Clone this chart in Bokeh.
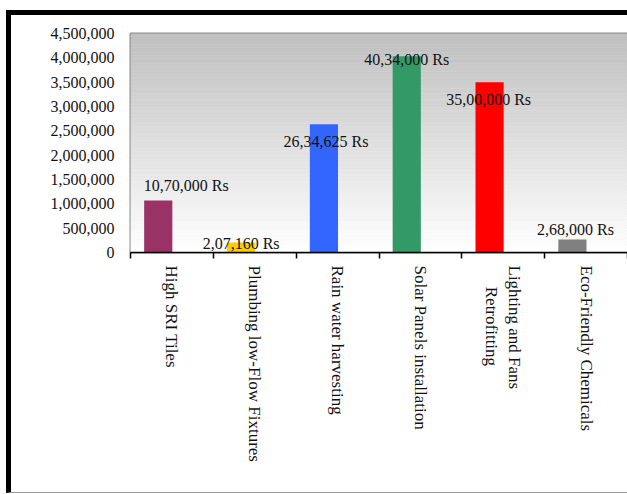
import numpy as np
from bokeh.plotting import figure
from bokeh.models import ColumnDataSource, FixedTicker, NumeralTickFormatter, Range1d
from bokeh.core.properties import value
from bokeh.embed import file_html
from bokeh.resources import INLINE

# Green building measures and their cost (Rs)
categories = [
    "High SRI Tiles",
    "Plumbing low-Flow Fixtures",
    "Rain water harvesting",
    "Solar Panels installation",
    "Lighting and Fans\n\u00a0\u00a0\u00a0\u00a0\u00a0Retrofitting",
    "Eco-Friendly Chemicals",
]
costs = [1070000, 207160, 2634625, 4034000, 3500000, 268000]
cost_labels = ["10,70,000 Rs", "2,07,160 Rs", "26,34,625 Rs",
               "40,34,000 Rs", "35,00,000 Rs", "2,68,000 Rs"]
bar_colors = ["#993366", "#FFCC00", "#3366FF", "#339966", "#FF0000", "#808080"]
y_ticks = [0, 500000, 1000000, 1500000, 2000000, 2500000,
           3000000, 3500000, 4000000, 4500000]

# label nudges in screen pixels (right, down)
label_dx = [28, 0, 2, 0, -1, 3]
label_dy = [-15, 1.5, 17.5, 3.5, 17.5, -9.5]

FONT = "Liberation Serif"
n = len(categories)
centers = np.arange(n) + 0.5
bar_x = centers - 0.165

p = figure(width=621, height=483, output_backend="svg", toolbar_location=None,
           x_range=Range1d(0, n), y_range=Range1d(0, 4500000),
           min_border_left=119, min_border_right=5, min_border_top=18,
           min_border_bottom=246)
# black frame around the chart area
p.styles = {"border-left": "5px solid black", "border-top": "5px solid black",
            "border-bottom": "1px solid #9a9a9a", "margin-left": "6px",
            "margin-top": "10px"}

# vertical gray-to-white gradient behind the bars
bands = 80
edges = np.linspace(0, 4500000, bands + 1)
shade = np.linspace(255, 192, bands).astype(int)
grad_colors = ["#%02x%02x%02x" % (s, s, s) for s in shade]
p.quad(left=0, right=n, bottom=edges[:-1], top=edges[1:],
       fill_color=grad_colors, line_color=grad_colors, line_width=0.5)

src = ColumnDataSource(dict(x=bar_x, top=costs, color=bar_colors,
                            label=cost_labels, dx=label_dx, dy=label_dy))
p.vbar(x="x", top="top", width=0.34, bottom=0, fill_color="color",
       line_color=None, source=src)
p.text(x="x", y="top", text="label", x_offset="dx", y_offset="dy",
       text_align="center", text_baseline="middle",
       text_font=value(FONT), text_font_size="16px", text_color="#111111",
       source=src)

p.grid.visible = False
p.background_fill_color = "white"
p.border_fill_color = "white"
p.outline_line_color = "#8a8a8a"
p.outline_line_width = 2

# y axis: comma-grouped ticks, no tick marks
p.yaxis.ticker = FixedTicker(ticks=y_ticks)
p.yaxis.formatter = NumeralTickFormatter(format="0,0")
p.yaxis.axis_line_color = None
p.yaxis.major_tick_line_color = None
p.yaxis.minor_tick_line_color = None
p.yaxis.major_label_standoff = 10
p.yaxis.major_label_text_font = FONT
p.yaxis.major_label_text_font_size = "16px"
p.yaxis.major_label_text_color = "#111111"

# x axis: labels at category centres, tick marks between categories
p.xaxis.ticker = FixedTicker(ticks=list(centers), minor_ticks=list(range(n + 1)))
p.xaxis.major_label_overrides = {float(c): lab for c, lab in zip(centers, categories)}
p.xaxis.major_label_orientation = -np.pi / 2
p.xaxis.major_tick_line_color = None
p.xaxis.minor_tick_line_color = "black"
p.xaxis.minor_tick_line_width = 1.5
p.xaxis.minor_tick_in = 0
p.xaxis.minor_tick_out = 6
p.xaxis.axis_line_color = "black"
p.xaxis.axis_line_width = 1.5
p.xaxis.major_label_standoff = 7
p.xaxis.major_label_text_font = FONT
p.xaxis.major_label_text_font_size = "17px"
p.xaxis.major_label_text_color = "#111111"

open("out.html", "w").write(file_html(p, INLINE))
